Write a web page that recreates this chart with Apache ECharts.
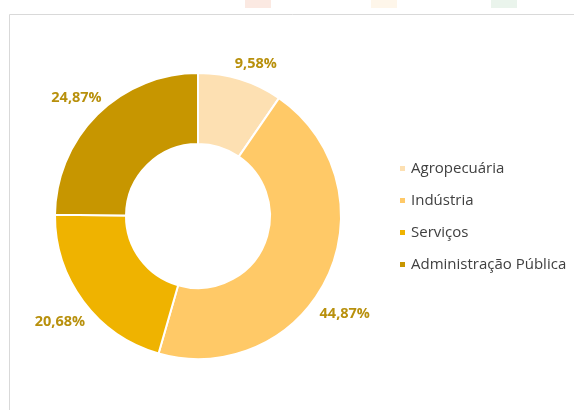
<!DOCTYPE html>
<html>
<head>
<meta charset="utf-8">
<script src="https://cdn.jsdelivr.net/npm/echarts@6/dist/echarts.min.js"></script>
<style>
  html, body { margin: 0; padding: 0; background: #fff; }
  #main { width: 574px; height: 410px; }
</style>
</head>
<body>
<div id="main"></div>
<script>
// setores e participação (%)
var setores = ['Agropecuária', 'Indústria', 'Serviços', 'Administração Pública'];
var valores = [9.58, 44.87, 20.68, 24.87];
var cores = ['#fde0b2', '#ffc967', '#efb300', '#c79600'];
// ajuste fino da posição dos rótulos (estilo)
var ajusteRotulo = [[-13, -8], [-20, 33], [13, 16], [15, -11]];

var chart = echarts.init(document.getElementById('main'));

var dados = setores.map(function (s, i) {
  return { name: s, value: valores[i], itemStyle: { color: cores[i] } };
});

var option = {
  animation: false,
  textStyle: { fontFamily: 'Open Sans' },
  graphic: [
    // moldura do gráfico
    { type: 'rect', shape: { x: 9.5, y: 14.5, width: 600, height: 420 },
      style: { fill: 'none', stroke: '#d9d9d9', lineWidth: 1 } },
    // restos de outros gráficos no topo
    { type: 'rect', shape: { x: 245, y: 0, width: 26, height: 8 }, style: { fill: '#fbe9e2' } },
    { type: 'rect', shape: { x: 371, y: 0, width: 26, height: 8 }, style: { fill: '#fef6ea' } },
    { type: 'rect', shape: { x: 491, y: 0, width: 26, height: 8 }, style: { fill: '#eaf4ec' } }
  ],
  legend: {
    orient: 'vertical',
    left: 393,
    top: 156,
    itemWidth: 7,
    itemHeight: 7,
    itemGap: 17,
    icon: 'rect',
    textStyle: { fontSize: 15, color: '#404040', fontFamily: 'Open Sans' },
    data: setores
  },
  series: [{
    type: 'pie',
    center: [198, 216],
    radius: [72, 143],
    startAngle: 90,
    clockwise: true,
    itemStyle: { borderColor: '#fff', borderWidth: 2 },
    label: {
      show: true,
      position: 'outside',
      color: '#b8900c',
      fontSize: 14.5,
      fontWeight: 'bold',
      fontFamily: 'Open Sans',
      formatter: function (p) { return p.value.toFixed(2).replace('.', ',') + '%'; }
    },
    labelLine: { show: false, length: 8, length2: 0 },
    labelLayout: function (p) {
      var a = ajusteRotulo[p.dataIndex];
      return { dx: a[0], dy: a[1] };
    },
    emphasis: { disabled: true },
    data: dados
  }]
};
chart.setOption(option);
</script>
</body>
</html>
